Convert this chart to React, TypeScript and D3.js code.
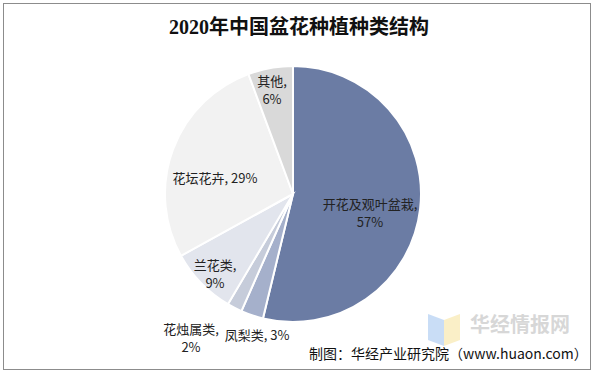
import { useEffect, useRef } from 'react';
import * as d3 from 'd3';

const categories = ['开花及观叶盆栽', '凤梨类', '花烛属类', '兰花类', '花坛花卉', '其他'];
const values = [57, 3, 2, 9, 29, 6];
const labelLines = [
  ['开花及观叶盆栽,', '57%'],
  ['凤梨类, 3%'],
  ['花烛属类,', '2%'],
  ['兰花类,', '9%'],
  ['花坛花卉, 29%'],
  ['其他,', '6%'],
];
const colors = ['#6B7CA4', '#A5B0CB', '#C6CCDA', '#E2E5ED', '#F2F2F2', '#D9D9D9'];

export default function App() {
  const ref = useRef<SVGSVGElement | null>(null);

  useEffect(() => {
    if (!ref.current) return;
    const width = 597;
    const height = 375;
    const svg = d3.select(ref.current);
    svg.selectAll('*').remove();
    svg.attr('width', width).attr('height', height);

    svg.append('rect').attr('width', width).attr('height', height).attr('fill', '#fff');
    svg
      .append('rect')
      .attr('x', 3.5)
      .attr('y', 3.5)
      .attr('width', 587)
      .attr('height', 366)
      .attr('fill', 'none')
      .attr('stroke', '#8c8c8c')
      .attr('stroke-width', 1);

    svg
      .append('text')
      .attr('x', 299)
      .attr('y', 34)
      .attr('text-anchor', 'middle')
      .attr('font-family', '"Liberation Serif", "Noto Sans CJK SC", serif')
      .attr('font-weight', 'bold')
      .attr('font-size', 20)
      .attr('fill', '#111')
      .text('2020年中国盆花种植种类结构');

    const cx = 293;
    const cy = 194;
    const r = 128;

    const pie = d3
      .pie<number>()
      .sort(null)
      .value(d => d);
    const arcs = pie(values);
    const arc = d3.arc<d3.PieArcDatum<number>>().innerRadius(0).outerRadius(r);

    const g = svg.append('g').attr('transform', `translate(${cx},${cy})`);
    g.selectAll('path')
      .data(arcs)
      .join('path')
      .attr('d', arc)
      .attr('fill', (_, i) => colors[i])
      .attr('stroke', '#fff')
      .attr('stroke-width', 2)
      .append('title')
      .text((_, i) => categories[i]);

    // label centre positions relative to pie centre
    const labelPos: [number, number][] = [
      [77, 20],
      [-36, 142],
      [-102, 145],
      [-78, 81],
      [-78, -15],
      [-21, -103],
    ];
    const lineGap = 18;

    const labels = g
      .selectAll('text.lbl')
      .data(arcs)
      .join('text')
      .attr('class', 'lbl')
      .attr('text-anchor', 'middle')
      .attr('font-family', '"Noto Sans CJK SC", "Noto Sans", sans-serif')
      .attr('font-size', 13)
      .attr('fill', '#222');

    labels.each(function (_, i) {
      const lines = labelLines[i];
      const [lx, ly] = labelPos[i];
      const t = d3.select(this);
      const startY = ly - ((lines.length - 1) * lineGap) / 2 + 4;
      lines.forEach((line, j) => {
        t.append('tspan')
          .attr('x', lx)
          .attr('y', startY + j * lineGap)
          .text(line);
      });
    });

    // watermark
    const wm = svg.append('g').attr('opacity', 0.55);
    wm.append('path')
      .attr('d', 'M428,314 L444,320 L444,346 L428,340 Z')
      .attr('fill', '#9EC3F0');
    wm.append('path')
      .attr('d', 'M444,320 L460,314 L460,340 L444,346 Z')
      .attr('fill', '#F7E39A');
    wm.append('text')
      .attr('x', 470)
      .attr('y', 332)
      .attr('font-family', '"Noto Sans CJK SC", sans-serif')
      .attr('font-weight', 'bold')
      .attr('font-size', 20)
      .attr('fill', '#b8b8b8')
      .text('华经情报网');

    svg
      .append('text')
      .attr('x', 309)
      .attr('y', 359)
      .attr('font-family', '"Noto Sans CJK SC", sans-serif')
      .attr('font-size', 14)
      .attr('fill', '#111')
      .text('制图：华经产业研究院（www.huaon.com）');
  }, []);

  return (
    <svg
      ref={ref}
      style={{ position: 'absolute', left: 0, top: 0, display: 'block' }}
    />
  );
}
